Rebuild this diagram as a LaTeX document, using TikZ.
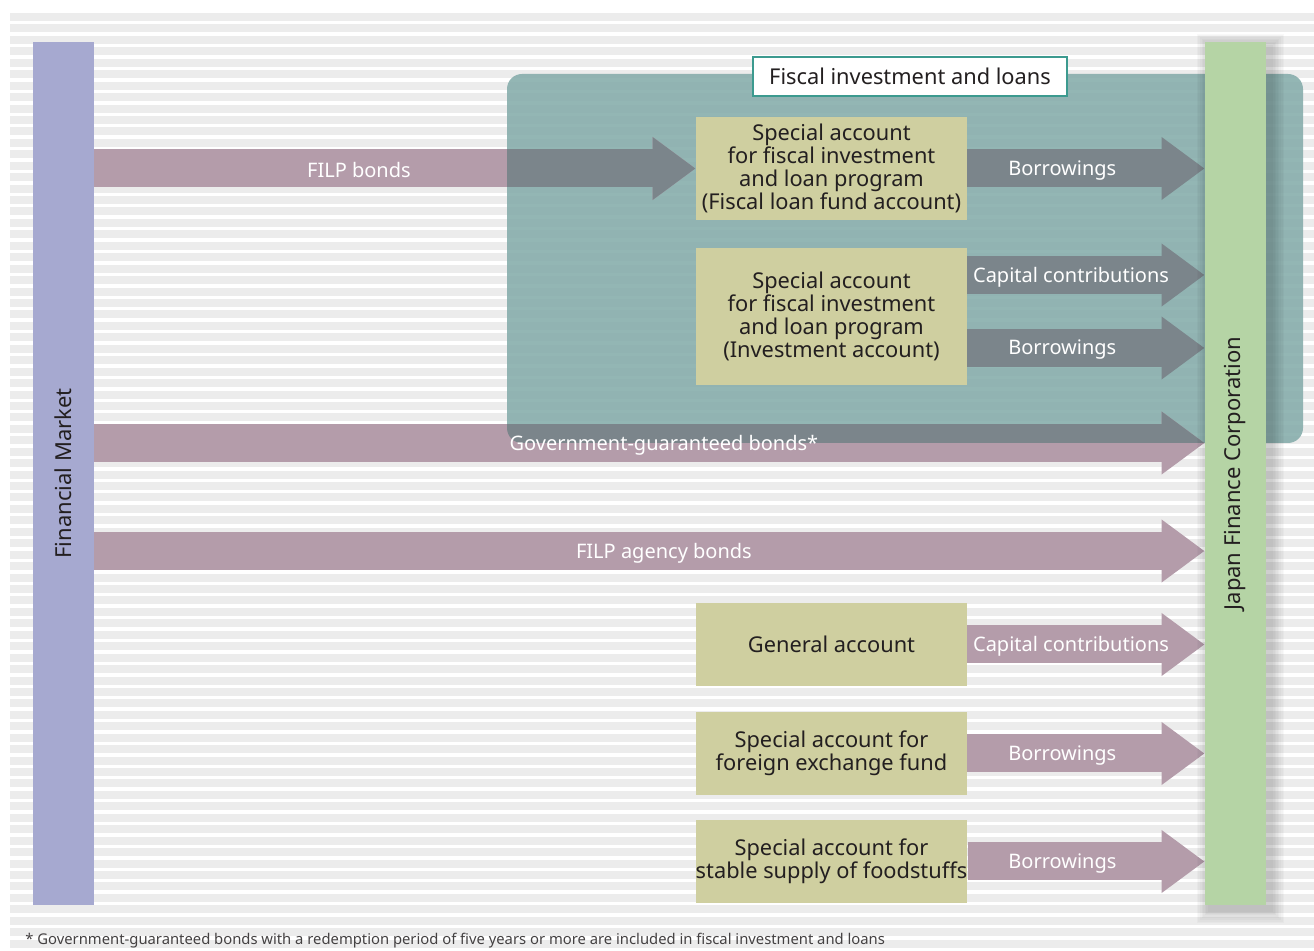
\documentclass[tikz,border=0pt]{standalone}
\usepackage{fontspec}
\setmainfont{Noto Sans}
\usetikzlibrary{arrows.meta}
\definecolor{stripegray}{HTML}{ECECEC}
\definecolor{marketblue}{HTML}{A6A9D0}
\definecolor{jfcgreen}{HTML}{B5D4A5}
\definecolor{khaki}{HTML}{CFCFA0}
\definecolor{bondpink}{HTML}{B49CAA}
\definecolor{flowgray}{HTML}{7B858B}
\definecolor{tealfill}{HTML}{85ACAA}
\definecolor{tealline}{HTML}{3C9A8F}
\definecolor{inktext}{HTML}{231F20}

\begin{document}
\begin{tikzpicture}[x=0.5pt,y=-0.5pt,
  barshape/.style={inner sep=0pt,minimum width=30.5pt,minimum height=431.5pt},
  accbox/.style={fill=khaki,inner sep=0pt,minimum width=135.5pt,align=center,text=inktext,
    font=\fontsize{10.9}{11.5}\selectfont},
  flow/.style={line width=19pt,-{Triangle[length=21.5pt,width=30pt]}},
  pinkflow/.style={flow,draw=bondpink},
  grayflow/.style={flow,draw=flowgray},
  flowlabel/.style={text=white,font=\fontsize{10}{12}\selectfont,inner sep=0pt,yshift=-1pt},
  barlabel/.style={rotate=90,text=inktext,font=\fontsize{11}{13}\selectfont}]
\useasboundingbox (0,0) rectangle (1314,951);
\fill[white] (0,0) rectangle (1314,951);
\foreach \i in {0,...,81}
  \fill[stripegray] (10,{13+\i*11.44}) rectangle (1314,{21+\i*11.44});
\fill[tealfill,opacity=0.88,rounded corners=7.5pt] (507,74) rectangle (1303,443);
\node[barshape,fill=marketblue] (fm) at (63.5,473.5) {};
\node[barshape] (jfc) at (1235.5,473.5) {};
\node[accbox,minimum height=51.5pt] (fund) at (831.5,168.5) {Special account\\for fiscal investment\\and loan program\\(Fiscal loan fund account)};
\node[accbox,minimum height=68.5pt] (invest) at (831.5,316.5) {Special account\\for fiscal investment\\and loan program\\(Investment account)};
\node[accbox,minimum height=41.5pt] (general) at (831.5,644.5) {General account};
\node[accbox,minimum height=41.5pt] (forex) at (831.5,753.5) {Special account for\\foreign exchange fund};
\node[accbox,minimum height=41.5pt] (food) at (831.5,861.5) {Special account for\\stable supply of foodstuffs};
\coordinate (capinv) at ([yshift=20.75pt]invest.east);
\coordinate (borinv) at ([yshift=-15.75pt]invest.east);
\coordinate (ggb) at (fm.east |- 0,443);
\coordinate (agency) at (fm.east |- 0,551);
\draw[pinkflow] (fm.east |- fund.west) -- node[flowlabel,pos=0.44] {FILP bonds} (fund.west);
\draw[pinkflow] (ggb) -- (ggb -| jfc.west);
\draw[pinkflow] (agency) -- node[flowlabel,pos=0.513] {FILP agency bonds} (agency -| jfc.west);
\draw[pinkflow] (general.east) -- node[flowlabel,pos=0.437] {Capital contributions} (general.east -| jfc.west);
\draw[pinkflow] (forex.east) -- node[flowlabel,pos=0.40] {Borrowings} (forex.east -| jfc.west);
\draw[pinkflow] (food.east) -- node[flowlabel,pos=0.40] {Borrowings} (food.east -| jfc.west);
\begin{scope}
\clip[rounded corners=7.5pt] (507,74) rectangle (1303,443);
\draw[grayflow] (fm.east |- fund.west) -- (fund.west);
\draw[grayflow] (ggb) -- (ggb -| jfc.west);
\end{scope}
\draw[grayflow] (fund.east) -- node[flowlabel,pos=0.40] {Borrowings} (fund.east -| jfc.west);
\draw[grayflow] (capinv) -- node[flowlabel,pos=0.437] {Capital contributions} (capinv -| jfc.west);
\draw[grayflow] (borinv) -- node[flowlabel,pos=0.40] {Borrowings} (borinv -| jfc.west);
\path (ggb) -- node[flowlabel,pos=0.513] {Government-guaranteed bonds*} (ggb -| jfc.west);
\foreach \s in {1,...,8}
  \fill[black,opacity=0.025] ([xshift={2.5pt-\s*0.8pt},yshift={-2.5pt+\s*0.8pt}]jfc.north west)
    rectangle ([xshift={2.5pt+\s*0.8pt},yshift={-2.5pt-\s*0.8pt}]jfc.south east);
\fill[jfcgreen] (jfc.north west) rectangle (jfc.south east);
\node[barlabel] at (fm) {Financial Market};
\node[barlabel] at (jfc) {Japan Finance Corporation};
\node[fill=white,draw=tealline,line width=1pt,minimum width=157pt,minimum height=19.5pt,inner sep=0pt,
  text=inktext,font=\fontsize{10.9}{12}\selectfont] (fil) at (910,76.5) {Fiscal investment and loans};
\node[anchor=base west,inner sep=0pt,text=inktext!85,font=\fontsize{7.4}{9}\selectfont] (note) at (25,945)
  {* Government-guaranteed bonds with a redemption period of five years or more are included in fiscal investment and loans};
\end{tikzpicture}
\end{document}
